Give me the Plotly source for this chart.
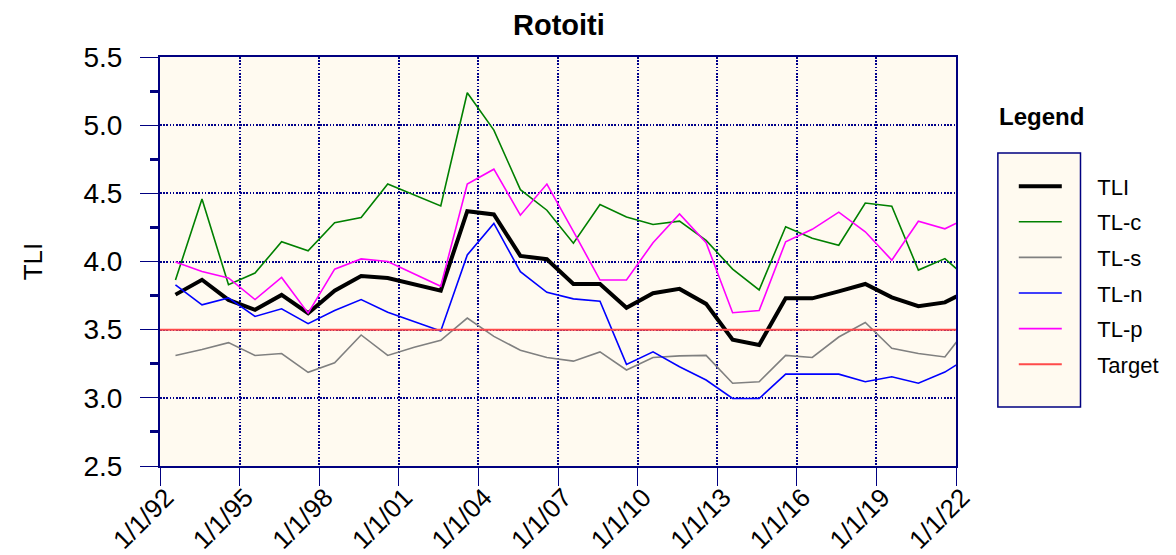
import plotly.graph_objects as go

# ---------------- data ----------------
years = list(range(1992, 2023))
dates = [f"{y}-08-01" for y in years]

tli = [3.757, 3.866, 3.718, 3.646, 3.755, 3.621, 3.786, 3.893, 3.879, 3.830,
       3.786, 4.369, 4.345, 4.041, 4.017, 3.835, 3.835, 3.660, 3.767, 3.799,
       3.689, 3.427, 3.388, 3.730, 3.730, 3.781, 3.835, 3.737, 3.672, 3.700,
       3.800]
tl_c = [3.864, 4.458, 3.830, 3.915, 4.145, 4.078, 4.284, 4.323, 4.568, 4.489,
        4.408, 5.238, 4.964, 4.527, 4.376, 4.134, 4.418, 4.327, 4.272, 4.296,
        4.155, 3.944, 3.791, 4.255, 4.170, 4.119, 4.429, 4.405, 3.937, 4.021,
        3.850]
tl_s = [3.311, 3.354, 3.405, 3.311, 3.325, 3.187, 3.257, 3.461, 3.311, 3.371,
        3.422, 3.585, 3.451, 3.349, 3.296, 3.269, 3.337, 3.204, 3.296, 3.308,
        3.311, 3.107, 3.118, 3.311, 3.296, 3.446, 3.553, 3.364, 3.325, 3.300,
        3.550]
tl_n = [3.828, 3.682, 3.733, 3.597, 3.653, 3.544, 3.641, 3.721, 3.628, 3.559,
        3.490, 4.048, 4.279, 3.925, 3.774, 3.726, 3.708, 3.245, 3.337, 3.228,
        3.131, 2.995, 2.995, 3.174, 3.174, 3.174, 3.118, 3.155, 3.107, 3.189,
        3.310]
tl_p = [3.997, 3.927, 3.879, 3.721, 3.883, 3.621, 3.944, 4.019, 4.000, 3.910,
        3.818, 4.568, 4.677, 4.340, 4.568, 4.221, 3.864, 3.864, 4.138, 4.349,
        4.138, 3.624, 3.640, 4.145, 4.236, 4.362, 4.218, 4.010, 4.295, 4.240,
        4.335]
target_value = 3.5

tick_years = list(range(1992, 2023, 3))
tick_vals = [f"{y}-01-01" for y in tick_years]
tick_text = [f"1/1/{str(y)[-2:]}" for y in tick_years]
x_range = [tick_vals[0], tick_vals[-1]]

# ---------------- style ----------------
NAVY = "#000080"
GRID = "#00008B"
FONT = "Arial, 'Liberation Sans', sans-serif"
PAD = "\u00a0" * 5

series = [
    ("TLI", tli, "#000000", 4),
    ("TL-c", tl_c, "#008000", 1.6),
    ("TL-s", tl_s, "#808080", 1.6),
    ("TL-n", tl_n, "#0000FF", 1.6),
    ("TL-p", tl_p, "#FF00FF", 1.6),
]

fig = go.Figure()
for name, vals, color, width in series:
    fig.add_trace(go.Scatter(
        x=dates, y=vals, mode="lines", name=PAD + name, legendgroup=name,
        line=dict(color=color, width=width),
    ))
fig.add_trace(go.Scatter(
    x=x_range, y=[target_value, target_value], mode="lines", name=PAD + "Target",
    legendgroup="Target", line=dict(color="#FF4A4A", width=2),
))

# legend frame (decoration)
fig.add_shape(type="rect", xref="paper", yref="paper",
              x0=1.0526, x1=1.1564, y0=0.1443, y1=0.7653,
              line=dict(color=NAVY, width=1.5), fillcolor="#FFFAF0", layer="below")
fig.add_annotation(text="<b>Legend</b>", xref="paper", yref="paper",
                   x=1.0515, y=0.8557, xanchor="left", yanchor="middle",
                   showarrow=False, font=dict(size=24, color="black", family=FONT))

fig.update_layout(
    width=1176, height=555,
    margin=dict(l=160, r=217, t=57, b=89),
    paper_bgcolor="white",
    plot_bgcolor="#FFFAF0",
    font=dict(family=FONT, size=28, color="black"),
    title=dict(text="<b>Rotoiti</b>", x=0.4753, xanchor="center", y=0.955,
               yanchor="middle", font=dict(size=29, family=FONT, color="black")),
    showlegend=True,
    legend=dict(
        x=1.0726, xanchor="left", y=0.735, yanchor="top",
        bgcolor="rgba(0,0,0,0)", borderwidth=0,
        font=dict(size=22, family=FONT, color="black"),
        itemwidth=43, traceorder="grouped", tracegroupgap=4,
    ),
)

fig.update_xaxes(
    type="date", range=x_range, automargin=False,
    tickmode="array", tickvals=tick_vals, ticktext=tick_text,
    tickangle=-45, tickfont=dict(size=26),
    ticklabelstandoff=-14, ticklabelshift=6,
    ticks="outside", ticklen=18, tickwidth=1.3, tickcolor=NAVY,
    showline=True, linecolor=NAVY, linewidth=2, mirror=True,
    showgrid=True, gridcolor=GRID, gridwidth=1.6, griddash="1.5px,1.7px",
    zeroline=False,
)
fig.update_yaxes(
    range=[2.5, 5.5], tick0=2.5, dtick=0.5, tickformat=".1f", automargin=False,
    tickfont=dict(size=28), ticklabelstandoff=12,
    ticks="outside", ticklen=18, tickwidth=1.3, tickcolor=NAVY,
    minor=dict(dtick=0.25, tick0=2.5, ticks="outside", ticklen=8, tickwidth=2.5,
               tickcolor=NAVY, showgrid=False),
    showline=True, linecolor=NAVY, linewidth=2, mirror=True,
    showgrid=True, gridcolor=GRID, gridwidth=1.6, griddash="1.5px,1.7px",
    zeroline=False,
    title=dict(text="TLI", font=dict(size=26), standoff=33),
)

fig.write_html(
    "out.html",
    config={"displayModeBar": False},
    post_script="document.body.style.margin='0px';document.body.style.overflow='hidden';",
)
